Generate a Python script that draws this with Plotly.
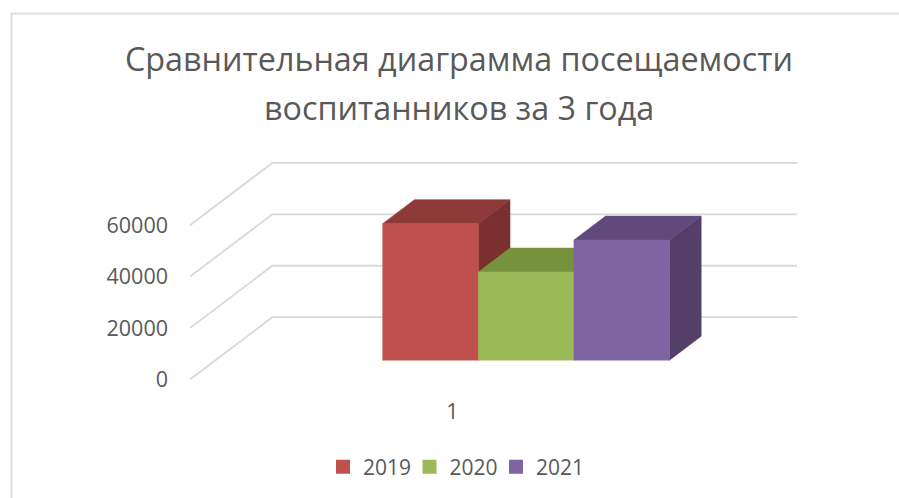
import plotly.graph_objects as go

# ---- data ----
years = ["2019", "2020", "2021"]
values = [53100, 34300, 46700]
categories = ["1"]
y_ticks = [0, 20000, 40000, 60000]
title_lines = ["Сравнительная диаграмма посещаемости", "воспитанников за 3 года"]

front_colors = ["#C0504D", "#9BBB59", "#8064A2"]
top_colors = ["#8E3A38", "#76923C", "#604A7B"]
side_colors = ["#7A302E", "#76923C", "#533F69"]
TEXT = "#595959"
GRID = "#D9D9D9"
BORDER = "#DEDEDE"

# ---- geometry of the oblique projection ----
W, H = 899, 498
MB = 60                          # bottom margin, holds the legend
PH = H - MB                      # paper height


def py(px):
    return (PH - px) / PH


X0_PX, X1_PX = 190.0, 797.0      # plot area left / right
Y0_PX, Y1_PX = 379.5, 150.0      # plot area bottom / top
PX_PER_UNIT = 51.43 / 20000      # vertical scale
DEPTH_DX, DEPTH_DY = 82.3, 62.3  # shift from front to back of the floor
FLOOR_W = 524.7                  # front edge of the floor
BAR_W = 95.6
BAR_D0, BAR_D1 = 0.31, 0.695     # bar front/back depth
GROUP_LEFT = 167.2               # left edge of the bar group, on the front plane


def proj(x, v, d):
    """x in axis units on the front plane, v in data units, d depth 0..1."""
    return x + d * DEPTH_DX, v + d * DEPTH_DY / PX_PER_UNIT


def poly(points):
    xs, ys = zip(*[proj(*p) for p in points])
    return list(xs) + [xs[0]], list(ys) + [ys[0]]


fig = go.Figure()

# gridlines: side wall + back wall
for t in y_ticks:
    p = [proj(0, t, 0), proj(0, t, 1), proj(FLOOR_W, t, 1)]
    fig.add_trace(go.Scatter(
        x=[a for a, _ in p], y=[b for _, b in p], mode="lines",
        line=dict(color=GRID, width=1.8), showlegend=False, hoverinfo="skip"))

# bars: side, top, front, in order
for i, (year, v) in enumerate(zip(years, values)):
    x0 = GROUP_LEFT + i * BAR_W
    x1 = x0 + BAR_W
    faces = [
        ([(x1, 0, BAR_D0), (x1, 0, BAR_D1), (x1, v, BAR_D1), (x1, v, BAR_D0)], side_colors[i]),
        ([(x0, v, BAR_D0), (x1, v, BAR_D0), (x1, v, BAR_D1), (x0, v, BAR_D1)], top_colors[i]),
        ([(x0, 0, BAR_D0), (x1, 0, BAR_D0), (x1, v, BAR_D0), (x0, v, BAR_D0)], front_colors[i]),
    ]
    for pts, col in faces:
        xs, ys = poly(pts)
        fig.add_trace(go.Scatter(
            x=xs, y=ys, mode="lines", fill="toself", fillcolor=col,
            line=dict(color=col, width=0.5), showlegend=False,
            name=year, hoverinfo="name"))

# legend entries
for year, col in zip(years, front_colors):
    fig.add_trace(go.Scatter(
        x=[None], y=[None], mode="markers", name=year,
        marker=dict(symbol="square", size=14, color=col)))

fig.update_layout(
    width=W, height=H,
    margin=dict(l=0, r=0, t=0, b=MB),
    paper_bgcolor="white", plot_bgcolor="white",
    font=dict(family="Open Sans, sans-serif", color=TEXT, size=21.5),
    xaxis=dict(
        domain=[X0_PX / W, X1_PX / W], range=[0, X1_PX - X0_PX],
        showgrid=False, zeroline=False, showline=False, ticks="",
        tickmode="array", tickvals=[FLOOR_W / 2], ticktext=categories,
        ticklabelstandoff=17, fixedrange=True),
    yaxis=dict(
        domain=[py(Y0_PX), py(Y1_PX)],
        range=[0, (Y0_PX - Y1_PX) / PX_PER_UNIT],
        showgrid=False, zeroline=False, showline=False, ticks="",
        tickmode="array", tickvals=y_ticks, ticktext=[str(t) for t in y_ticks],
        ticklabelstandoff=21, fixedrange=True),
    legend=dict(
        orientation="h", x=323 / W, xanchor="left", y=py(467), yanchor="middle",
        font=dict(size=21, color=TEXT), entrywidth=41.5, entrywidthmode="pixels",
        bgcolor="rgba(0,0,0,0)"),
    showlegend=True,
    annotations=[
        dict(text=line, x=459 / W, y=py(yc), xref="paper", yref="paper",
             xanchor="center", yanchor="middle", showarrow=False,
             font=dict(size=32.3, color=TEXT))
        for line, yc in zip(title_lines, [58.5, 107])
    ],
    shapes=[
        dict(type="line", xref="paper", yref="paper", x0=11.5 / W, x1=11.5 / W,
             y0=py(H), y1=py(13), line=dict(color=BORDER, width=2)),
        dict(type="line", xref="paper", yref="paper", x0=10.5 / W, x1=1,
             y0=py(13.5), y1=py(13.5), line=dict(color=BORDER, width=2)),
    ],
)

fig.write_html("out.html", config=dict(displayModeBar=False),
               post_script="document.body.style.margin='0';document.documentElement.style.overflow='hidden';")
